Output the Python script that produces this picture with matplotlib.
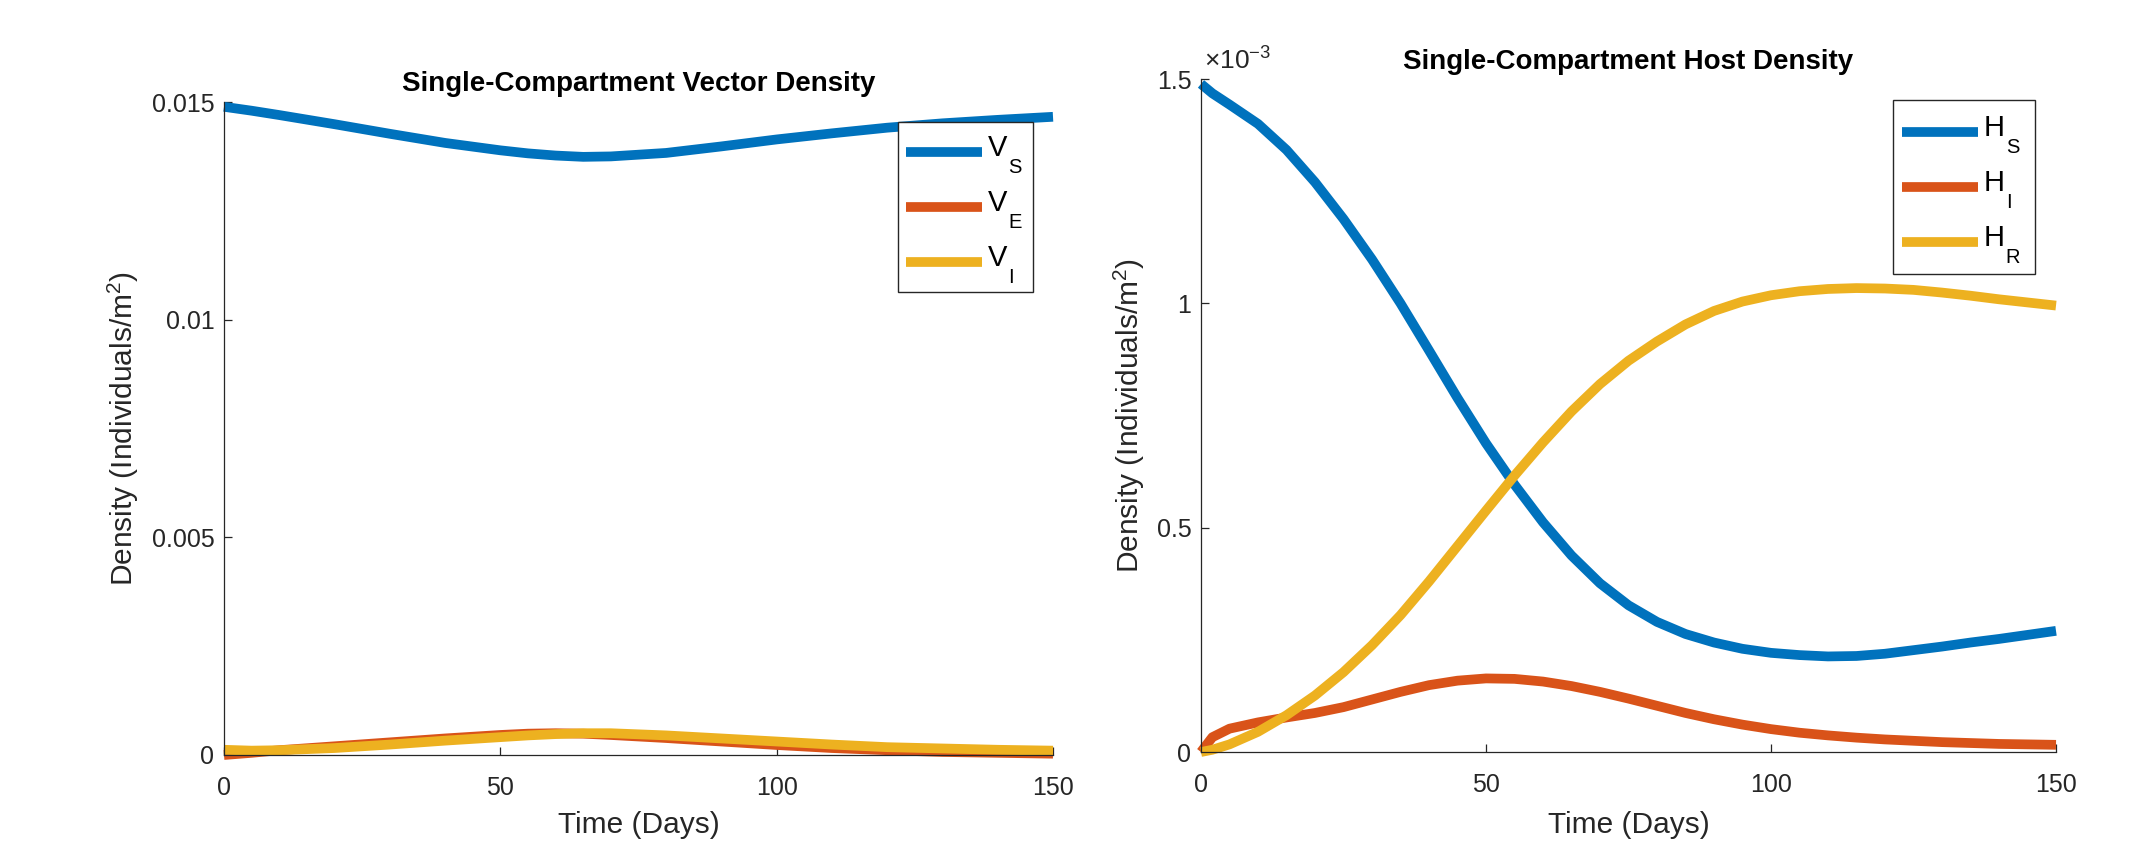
import matplotlib
matplotlib.use("Agg")
import matplotlib.pyplot as plt
from matplotlib.transforms import IdentityTransform, Affine2D
from matplotlib.patches import Rectangle

plt.rcParams['font.family'] = ['Liberation Sans', 'DejaVu Sans']
plt.rcParams['mathtext.fontset'] = 'custom'
plt.rcParams['mathtext.rm'] = 'Liberation Sans'
plt.rcParams['mathtext.it'] = 'Liberation Sans'

# ---------------- data ----------------
# Vector compartment (individuals / m^2)
t_vector = [0, 5, 10, 20, 30, 40, 50, 55, 60, 65, 70, 80, 90, 100, 110, 120, 130, 140, 150]
V_S = [0.01489, 0.01480, 0.01470, 0.01449, 0.01427, 0.01406, 0.01389, 0.01382, 0.01377,
       0.01374, 0.01375, 0.01383, 0.01398, 0.01414, 0.01428, 0.01441, 0.01451, 0.01459, 0.01466]
V_E = [0.0, 0.00005, 0.00011, 0.00020, 0.00029, 0.00038, 0.00046, 0.00049, 0.00050,
       0.00049, 0.00046, 0.00039, 0.00031, 0.00023, 0.00016, 0.00011, 0.00007, 0.00005, 0.00003]
V_I = [0.00012, 0.00010, 0.00011, 0.00016, 0.00024, 0.00033, 0.00041, 0.00045, 0.00048,
       0.00050, 0.00050, 0.00045, 0.00038, 0.00031, 0.00024, 0.00018, 0.00015, 0.00012, 0.00010]

# Host compartment, in units of 1e-3 individuals / m^2
t_host = [0, 2, 5, 10, 15, 20, 25, 30, 35, 40, 45, 50, 55, 60, 65, 70, 75, 80, 85, 90,
          95, 100, 105, 110, 115, 120, 125, 130, 135, 140, 145, 150]
H_S = [1.489, 1.468, 1.443, 1.400, 1.342, 1.270, 1.188, 1.098, 1.000, 0.895, 0.789, 0.688,
       0.596, 0.512, 0.438, 0.376, 0.327, 0.290, 0.263, 0.244, 0.230, 0.221, 0.216, 0.213,
       0.214, 0.219, 0.227, 0.235, 0.244, 0.252, 0.261, 0.270]
H_I = [0.0, 0.033, 0.052, 0.066, 0.077, 0.087, 0.100, 0.117, 0.134, 0.149, 0.159, 0.164,
       0.163, 0.157, 0.147, 0.134, 0.119, 0.103, 0.087, 0.073, 0.061, 0.051, 0.043, 0.037,
       0.032, 0.028, 0.025, 0.022, 0.020, 0.018, 0.017, 0.016]
H_R = [0.0, 0.005, 0.017, 0.045, 0.082, 0.126, 0.178, 0.238, 0.305, 0.380, 0.459, 0.538,
       0.616, 0.690, 0.759, 0.820, 0.872, 0.915, 0.953, 0.983, 1.004, 1.018, 1.027, 1.032,
       1.034, 1.033, 1.030, 1.024, 1.017, 1.009, 1.002, 0.995]

x_ticks = [0, 50, 100, 150]
x_ticklabels = ['0', '50', '100', '150']
vec_yticks = [0, 0.005, 0.01, 0.015]
vec_yticklabels = ['0', '0.005', '0.01', '0.015']
host_yticks = [0, 0.5, 1, 1.5]
host_yticklabels = ['0', '0.5', '1', '1.5']

vec_names = [('V', 'S'), ('V', 'E'), ('V', 'I')]
host_names = [('H', 'S'), ('H', 'I'), ('H', 'R')]
colors = ['#0072BD', '#D95319', '#EDB120']

W, H = 2139, 850
fig = plt.figure(figsize=(W / 100, H / 100), dpi=100)

def px_axes(x0, y0, x1, y1):
    return fig.add_axes([x0 / W, 1 - y1 / H, (x1 - x0) / W, (y1 - y0) / H])

axL = px_axes(224, 102, 1053, 755)
axR = px_axes(1201, 79, 2056, 752)

axis_col = '#262626'

def style(ax, yticks, yticklabels, ylim, title, title_off, xlab_off, ylab_x):
    for s in ['top', 'right']:
        ax.spines[s].set_visible(False)
    for s in ['left', 'bottom']:
        ax.spines[s].set_color(axis_col)
        ax.spines[s].set_linewidth(0.9)
    ax.set_xlim(0, 150)
    ax.set_ylim(*ylim)
    ax.set_xticks(x_ticks, x_ticklabels)
    ax.set_yticks(yticks, yticklabels)
    ax.tick_params(direction='in', length=5.8, width=0.9, color=axis_col,
                   labelcolor=axis_col, labelsize=18)
    ax.tick_params(axis='x', pad=15)
    ax.tick_params(axis='y', pad=7)
    ax.set_xlabel('Time (Days)', fontsize=21.5, color=axis_col)
    ax.xaxis.label.set_va('center')
    ax.xaxis.set_label_coords(0.5, xlab_off)
    ax.set_ylabel(r'Density (Individuals/m$^\mathregular{2}$)', fontsize=21.5, color=axis_col)
    ax.yaxis.label.set_va('center')
    ax.yaxis.set_label_coords(ylab_x, 0.5)
    ax.text(0.5, 1 + title_off, title, transform=ax.transAxes, ha='center', va='center',
            fontsize=20, fontweight='bold', color='black')

# Left: vector densities
for y, c, nm in zip([V_S, V_E, V_I], colors, vec_names):
    axL.plot(t_vector, y, color=c, lw=7, label=nm[0], solid_capstyle='butt',
             solid_joinstyle='round', clip_on=False)
style(axL, vec_yticks, vec_yticklabels, (0, 0.015),
      'Single-Compartment Vector Density', 18 / 653, -(825 - 755) / 653, -(224 - 123) / 829)

# Right: host densities
for y, c, nm in zip([H_S, H_I, H_R], colors, host_names):
    axR.plot(t_host, y, color=c, lw=7, label=nm[0], solid_capstyle='butt',
             solid_joinstyle='round', clip_on=False)
style(axR, host_yticks, host_yticklabels, (0, 1.5),
      'Single-Compartment Host Density', 17 / 673, -(825 - 752) / 673, -(1201 - 1129) / 855)
axR.annotate('\u00d710$^{\\mathregular{-3}}$', xy=(0, 1), xycoords='axes fraction',
             xytext=(3, 4), textcoords='offset pixels', ha='left', va='bottom',
             fontsize=19, color=axis_col)

# ---------------- legends (MATLAB-like boxed legends) ----------------
LEG_FS = 21
FS_PX = LEG_FS * 100 / 72
PITCH = 55  # px between legend rows

def make_leg(ax, ls, anchor):
    lg = ax.legend(loc='upper left', bbox_to_anchor=anchor, bbox_transform=IdentityTransform(),
                   fontsize=LEG_FS, frameon=False, borderpad=0, borderaxespad=0,
                   handlelength=2.6, handletextpad=0.2, labelspacing=ls)
    for h in lg.legend_handles:
        h.set_linewidth(7)
    for tx in lg.get_texts():
        tx.set_color('black')
    return lg

def handle_geom(lg):
    out = []
    for h in lg.legend_handles:
        pts = h.get_transform().transform(h.get_xydata())
        out.append((pts[0, 0], pts[0, 1]))
    return out

# targets in image pixels (from top-left): box (x0, y0, x1, y1), handle left, first row y
leg_specs = [
    (axL, vec_names, (898, 122, 1033, 292), 906, 152),
    (axR, host_names, (1893, 100, 2035, 274), 1902, 132),
]

renderer = fig.canvas.get_renderer()
legs = []
for ax, names, box, hx, hy in leg_specs:
    anchor0 = (0.0, 400.0)
    lg = make_leg(ax, 0.9, anchor0)
    fig.canvas.draw()
    g = handle_geom(lg)
    pitch = g[0][1] - g[1][1]
    ls = 0.9 + (PITCH - pitch) / FS_PX
    dx = g[0][0] - anchor0[0]
    dy = anchor0[1] - g[0][1]
    anchor = (hx - dx, (H - hy) + dy)
    lg = make_leg(ax, ls, anchor)
    legs.append((ax, lg, names, box))

fig.canvas.draw()
for ax, lg, names, box in legs:
    g = handle_geom(lg)
    for tx, (base, sub), (lx, ly) in zip(lg.get_texts(), names, g):
        bb = tx.get_window_extent(renderer)
        fp = tx.get_fontproperties()
        wB, _, _ = renderer.get_text_width_height_descent(base, fp, ismath=False)
        _, _, d_lp = renderer.get_text_width_height_descent('lp', fp, ismath=False)
        baseline = bb.y0 + d_lp
        shift = (ly - 4) - baseline
        tx.set_transform(tx.get_transform() + Affine2D().translate(0, shift))
        fig.text(bb.x0 + wB + 1, ly - 21, sub, transform=IdentityTransform(),
                 fontsize=14.5, ha='left', va='baseline', color='black')
    x0, y0, x1, y1 = box
    rect = Rectangle((x0, H - y1), x1 - x0, y1 - y0, transform=IdentityTransform(),
                     facecolor='white', edgecolor=axis_col, linewidth=1.0,
                     zorder=4.9, clip_on=False)
    ax.add_patch(rect)

fig.savefig('out.png', dpi=100, facecolor='white')
